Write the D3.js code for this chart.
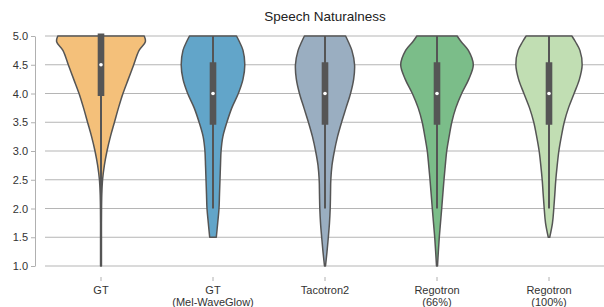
<!DOCTYPE html>
<html>
<head>
<meta charset="utf-8">
<script src="https://cdn.jsdelivr.net/npm/d3@7"></script>
<style>
  html, body { margin: 0; padding: 0; background: #fff; }
  svg { display: block; font-family: "Liberation Sans", Arial, sans-serif; }
</style>
</head>
<body>
<svg id="chart" width="604" height="307"></svg>
<script>
// ---- data ----
const title = "Speech Naturalness";
const categories = ["GT", "GT_mel", "Tacotron2", "Regotron66", "Regotron100"];
const xLabels = ["GT", "GT\n(Mel-WaveGlow)", "Tacotron2", "Regotron\n(66%)", "Regotron\n(100%)"];
const colors = ["#f4c07a", "#62a5c9", "#9aaec1", "#7bbd89", "#c1deb3"];
const yTicks = [1.0, 1.5, 2.0, 2.5, 3.0, 3.5, 4.0, 4.5, 5.0];

// score levels at which the violin density was read
const levels = [1.0, 1.25, 1.5, 1.75, 2.0, 2.25, 2.5, 2.75, 3.0, 3.25, 3.5, 3.75, 4.0, 4.25, 4.5, 4.75, 4.9, 5.0];
// relative density per level (null = outside data range)
const densGT        = [0.01, 0.01, 0.01, 0.01, 0.012, 0.018, 0.035, 0.075, 0.134, 0.21, 0.30, 0.39, 0.49, 0.61, 0.73, 0.85, 0.99, 0.965];
const densGTmel     = [null, null, 0.074, 0.105, 0.134, 0.145, 0.156, 0.167, 0.18, 0.22, 0.31, 0.42, 0.565, 0.67, 0.71, 0.67, 0.59, 0.525];
const densTacotron  = [0.011, 0.045, 0.074, 0.10, 0.116, 0.123, 0.13, 0.156, 0.21, 0.28, 0.37, 0.47, 0.57, 0.64, 0.66, 0.60, 0.52, 0.46];
const densReg66     = [0.011, 0.03, 0.051, 0.078, 0.105, 0.13, 0.156, 0.185, 0.217, 0.27, 0.33, 0.42, 0.55, 0.71, 0.81, 0.70, 0.54, 0.45];
const densReg100    = [null, null, 0.016, 0.078, 0.107, 0.13, 0.152, 0.183, 0.22, 0.275, 0.34, 0.435, 0.56, 0.68, 0.74, 0.69, 0.59, 0.51];
const densities = [densGT, densGTmel, densTacotron, densReg66, densReg100];

// box statistics
const q1      = [4.0, 3.5, 3.5, 3.5, 3.5];
const median  = [4.5, 4.0, 4.0, 4.0, 4.0];
const q3      = [5.0, 4.5, 4.5, 4.5, 4.5];
const whiskLo = [1.0, 2.0, 2.0, 2.0, 2.0];
const whiskHi = [5.0, 5.0, 5.0, 5.0, 5.0];

// ---- drawing ----
const svg = d3.select("#chart");
const x = d3.scaleBand().domain(categories).range([45, 605]).padding(0);
const y = d3.scaleLinear().domain([1, 5]).range([266, 36]);
const w = d3.scaleLinear().domain([0, 1]).range([0, x.bandwidth() * 0.4]);

const ink = "#555555";
const gridColor = "#b5b5b5";

// grid
svg.append("g").selectAll("line").data(yTicks).join("line")
  .attr("x1", 45).attr("x2", 604)
  .attr("y1", d => y(d)).attr("y2", d => y(d))
  .attr("stroke", gridColor).attr("stroke-width", 1);

// y axis
const yAxis = svg.append("g").attr("transform", "translate(35,0)")
  .call(d3.axisLeft(y).tickValues(yTicks).tickFormat(d3.format(".1f")).tickSize(4).tickPadding(3).tickSizeOuter(0));
yAxis.select(".domain").attr("stroke", "#b0b0b0");
yAxis.selectAll(".tick line").attr("stroke", "#b0b0b0");
yAxis.selectAll("text").attr("fill", "#333").style("font-size", "11px");

// x axis
const xAxis = svg.append("g").attr("transform", "translate(0,277)")
  .call(d3.axisBottom(x).tickSize(4).tickPadding(6).tickFormat(""));
xAxis.select(".domain").remove();
xAxis.selectAll(".tick line").attr("stroke", "#b0b0b0");
xAxis.selectAll(".tick").each(function(d, i) {
  const t = d3.select(this).select("text").attr("fill", "#333").style("font-size", "11px").attr("dy", null).attr("y", 17);
  xLabels[i].split("\n").forEach((s, k) => {
    t.append("tspan").attr("x", 0).attr("y", 17 + k * 11.5).text(s);
  });
});

// violins
const area = d3.area()
  .y(d => y(d.v))
  .x0(d => d.cx - w(d.d))
  .x1(d => d.cx + w(d.d))
  .curve(d3.curveCatmullRom);

categories.forEach((c, i) => {
  const cx = x(c) + x.bandwidth() / 2;
  const pts = levels.map((v, k) => ({ v, d: densities[i][k], cx })).filter(p => p.d !== null);
  svg.append("path").datum(pts)
    .attr("d", area)
    .attr("fill", colors[i])
    .attr("stroke", ink).attr("stroke-width", 1.5).attr("stroke-linejoin", "round");

  // whisker
  svg.append("line")
    .attr("x1", cx).attr("x2", cx)
    .attr("y1", y(whiskLo[i])).attr("y2", y(whiskHi[i]))
    .attr("stroke", ink).attr("stroke-width", 2);
  // box
  svg.append("rect")
    .attr("x", cx - 3.3).attr("width", 6.6)
    .attr("y", y(q3[i]) - 2.5).attr("height", y(q1[i]) - y(q3[i]) + 5)
    .attr("fill", ink);
  // median
  svg.append("circle").attr("cx", cx).attr("cy", y(median[i])).attr("r", 1.8).attr("fill", "#fff");
});

// title
svg.append("text").attr("x", 325).attr("y", 20.5).attr("text-anchor", "middle")
  .attr("fill", "#222").style("font-size", "13.5px").text(title);
</script>
</body>
</html>
